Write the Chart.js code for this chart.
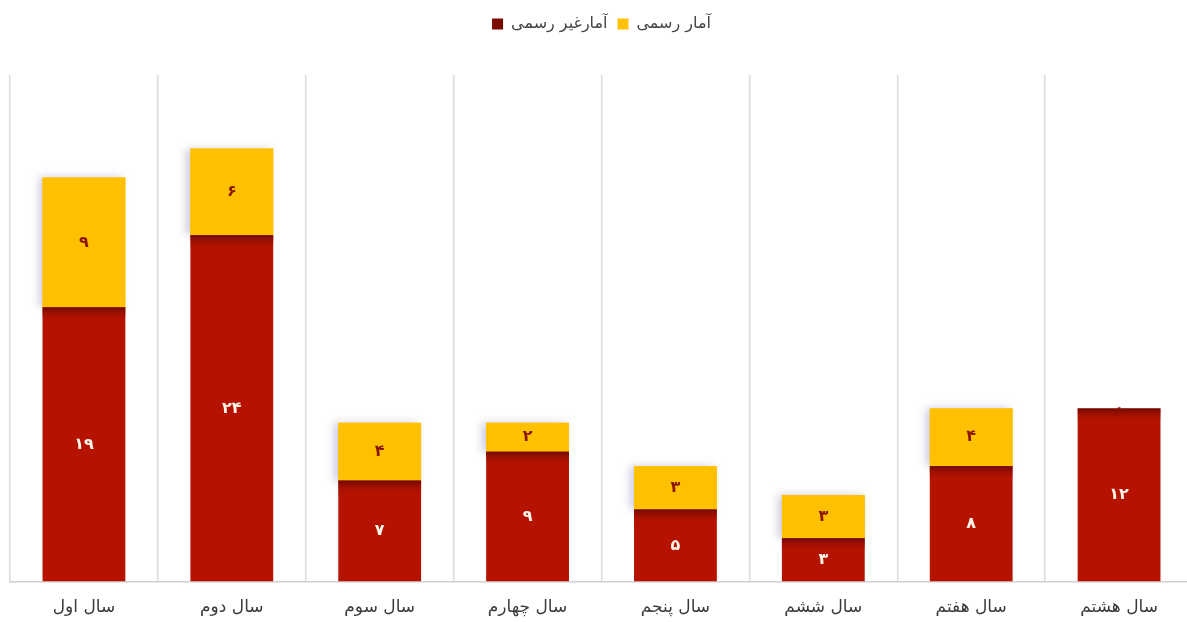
<!DOCTYPE html>
<html>
<head>
<meta charset="utf-8">
<script src="https://cdn.jsdelivr.net/npm/chart.js@4.4.0/dist/chart.umd.min.js"></script>
<style>
  html, body { margin: 0; padding: 0; background: #fff; overflow: hidden; }
  #wrap { width: 1193px; height: 622px; }
</style>
</head>
<body>
<div id="wrap"><canvas id="chart" width="1193" height="622"></canvas></div>
<script>
// Stacked bars: unofficial (bottom) + official (top) statistics per year
const years = ['سال اول', 'سال دوم', 'سال سوم', 'سال چهارم', 'سال پنجم', 'سال ششم', 'سال هفتم', 'سال هشتم'];
const unofficial = [19, 24, 7, 9, 5, 3, 8, 12];
const official = [9, 6, 4, 2, 3, 3, 4, 0];
const seriesNames = ['آمارغیر رسمی', 'آمار رسمی'];

const RED = '#b51200';
const RED_DARK = '#6e0a00';
const YELLOW = '#ffc000';
const FA_DIGITS = '۰۱۲۳۴۵۶۷۸۹';

function toFa(n) {
  return String(n).replace(/\d/g, d => FA_DIGITS[d]);
}

// make room under the legend
const legendSpace = {
  id: 'legendSpace',
  beforeInit(chart) {
    const fit = chart.legend.fit;
    chart.legend.fit = function () {
      fit.bind(chart.legend)();
      this.height += 33;
    };
  }
};

// soft shadow on left of the yellow segments
const yellowShadow = {
  id: 'yellowShadow',
  beforeDatasetsDraw(chart) {
    const ctx = chart.ctx;
    const meta = chart.getDatasetMeta(1);
    ctx.save();
    meta.data.forEach(el => {
      const h = el.base - el.y;
      if (h < 1) return;
      ctx.shadowColor = 'rgba(110,110,170,0.35)';
      ctx.shadowBlur = 8;
      ctx.shadowOffsetX = -4;
      ctx.fillStyle = YELLOW;
      ctx.fillRect(el.x - el.width / 2, el.y, el.width, h);
    });
    ctx.restore();
  }
};

// dark band at the top of red bars + value labels
const valueLabels = {
  id: 'valueLabels',
  afterDatasetsDraw(chart) {
    const ctx = chart.ctx;
    ctx.save();
    chart.getDatasetMeta(0).data.forEach(el => {
      const g = ctx.createLinearGradient(0, el.y, 0, el.y + 14);
      g.addColorStop(0, RED_DARK);
      g.addColorStop(1, 'rgba(181,18,0,0)');
      ctx.fillStyle = g;
      ctx.fillRect(el.x - el.width / 2, el.y, el.width, Math.min(14, el.base - el.y));
    });
    ctx.font = 'bold 16px "DejaVu Sans"';
    ctx.textAlign = 'center';
    ctx.textBaseline = 'middle';
    chart.data.datasets.forEach((ds, di) => {
      chart.getDatasetMeta(di).data.forEach((el, i) => {
        ctx.fillStyle = di === 0 ? '#fff4e8' : '#8a1500';
        ctx.fillText(toFa(ds.data[i]), el.x, (el.y + el.base) / 2);
      });
    });
    ctx.restore();
  }
};

new Chart(document.getElementById('chart'), {
  type: 'bar',
  data: {
    labels: years,
    datasets: [
      { label: seriesNames[0], data: unofficial, backgroundColor: RED, borderWidth: 0, barPercentage: 0.56, categoryPercentage: 1 },
      { label: seriesNames[1], data: official, backgroundColor: YELLOW, borderWidth: 0, barPercentage: 0.56, categoryPercentage: 1 }
    ]
  },
  options: {
    responsive: false,
    animation: false,
    layout: { padding: { left: 10, right: 0, top: 6, bottom: -12 } },
    plugins: {
      legend: {
        position: 'top',
        labels: {
          color: '#444',
          font: { family: '"DejaVu Sans"', size: 16 },
          boxWidth: 11,
          boxHeight: 11,
          padding: 10,
          generateLabels(chart) {
            return chart.data.datasets.map((ds, i) => ({
              text: ds.label,
              fillStyle: i === 0 ? '#7a0c00' : YELLOW,
              strokeStyle: 'transparent',
              lineWidth: 0,
              datasetIndex: i,
              fontColor: '#444'
            }));
          }
        }
      },
      tooltip: { enabled: false }
    },
    scales: {
      x: {
        stacked: true,
        grid: { color: '#dadada', lineWidth: 1.5, drawTicks: false },
        border: { color: '#d0d0d0', width: 1.5 },
        ticks: { color: '#3a3a3a', font: { family: '"DejaVu Sans"', size: 17 }, padding: 16 }
      },
      y: {
        stacked: true,
        min: 0,
        max: 35.1,
        display: false
      }
    }
  },
  plugins: [legendSpace, yellowShadow, valueLabels]
});
</script>
</body>
</html>
